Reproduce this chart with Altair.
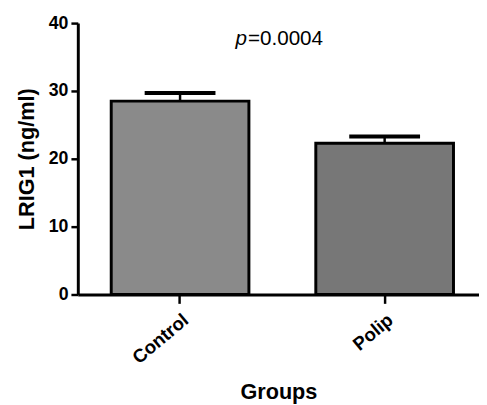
import altair as alt
import pandas as pd

groups = ["Control", "Polip"]
means = [28.5, 22.3]
sems = [1.2, 1.0]
fills = ["#8a8a8a", "#777777"]
y_ticks = [0, 10, 20, 30, 40]
p_italic = "p"
p_value = "=0.0004"
p_y = [37.7]

df = pd.DataFrame({
    "group": groups,
    "mean": means,
    "upper": [m + s for m, s in zip(means, sems)],
    "fill": fills,
})
df_p = pd.DataFrame({"y": p_y})

FONT = "Liberation Sans"

x_enc = alt.X(
    "group:N",
    sort=groups,
    scale=alt.Scale(paddingInner=0.327, paddingOuter=0.144, align=0.567),
    axis=alt.Axis(
        title="Groups",
        labelAngle=-40,
        labelAlign="right",
        labelBaseline="middle",
        labelPadding=14,
        labelOffset=6,
        labelFontSize=19,
        tickSize=9,
        titleBaseline="alphabetic",
        titleY=106,
        titleFontSize=22,
    ),
)
y_scale = alt.Scale(domain=[0, 40], nice=False)
y_enc = alt.Y(
    "mean:Q",
    scale=y_scale,
    axis=alt.Axis(
        title="LRIG1 (ng/ml)",
        values=y_ticks,
        tickSize=7,
        labelPadding=3,
        titlePadding=10,
        titleFontSize=22,
    ),
)

bars = alt.Chart(df).mark_bar(stroke="black", strokeWidth=3).encode(
    x=x_enc,
    y=y_enc,
    color=alt.Color("fill:N", scale=None),
)

stems = alt.Chart(df).mark_rule(color="black", strokeWidth=2.5).encode(
    x=alt.X("group:N", sort=groups),
    y=alt.Y("mean:Q", scale=y_scale),
    y2="upper:Q",
)

caps = alt.Chart(df).mark_tick(color="black", size=72, thickness=4, opacity=1).encode(
    x=alt.X("group:N", sort=groups),
    y=alt.Y("upper:Q", scale=y_scale),
)

p_text = alt.Chart(df_p).mark_text(
    text=p_italic, font=FONT, fontSize=21, fontStyle="italic", align="right",
    baseline="middle", color="black",
).encode(x=alt.value(172), y=alt.Y("y:Q", scale=y_scale))

v_text = alt.Chart(df_p).mark_text(
    text=p_value, font=FONT, fontSize=21, align="left",
    baseline="middle", color="black",
).encode(x=alt.value(173), y=alt.Y("y:Q", scale=y_scale))

chart = alt.layer(bars, stems, caps, p_text, v_text).properties(
    width=408,
    height=276,
    autosize="none",
    padding={"left": 71, "top": 12, "right": 0, "bottom": 108},
).configure_view(stroke=None).configure_axis(
    grid=False,
    domainColor="black",
    domainWidth=3,
    tickColor="black",
    tickWidth=2.5,
    labelColor="black",
    labelFont=FONT,
    labelFontSize=18,
    labelFontWeight="bold",
    titleColor="black",
    titleFont=FONT,
    titleFontSize=20,
    titleFontWeight="bold",
)

chart.save("out.html", embed_options={"renderer": "svg", "actions": False})
